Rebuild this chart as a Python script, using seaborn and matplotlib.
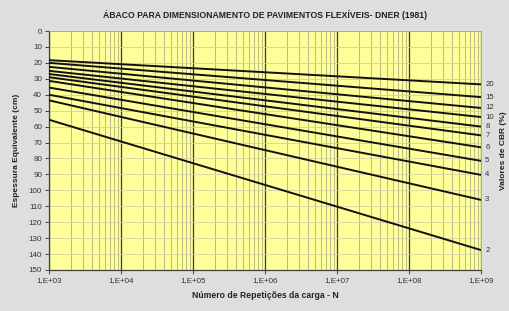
import matplotlib
matplotlib.use("Agg")
import matplotlib.pyplot as plt
from matplotlib.ticker import LogLocator, NullFormatter
import pandas as pd
import seaborn as sns

# CBR curves of the DNER (1981) abacus, thickness (cm) read at N = 1e3 and N = 1e9
cbr_values = [20, 15, 12, 10, 8, 7, 6, 5, 4, 3, 2]
n_repetitions = [1e3, 1e9]
thick_start = [18.3, 20.0, 22.5, 25.0, 27.0, 29.0, 31.3, 35.5, 40.0, 43.5, 55.7]
thick_end = [33.5, 41.5, 48.3, 54.0, 60.0, 65.5, 73.0, 81.5, 90.3, 106.0, 137.5]

x_ticks = [1e3, 1e4, 1e5, 1e6, 1e7, 1e8, 1e9]
x_labels = ["1,E+03", "1,E+04", "1,E+05", "1,E+06", "1,E+07", "1,E+08", "1,E+09"]
y_ticks = list(range(0, 151, 10))

rows = []
for cbr, h0, h1 in zip(cbr_values, thick_start, thick_end):
    rows.append({"CBR": cbr, "N": n_repetitions[0], "H": h0})
    rows.append({"CBR": cbr, "N": n_repetitions[1], "H": h1})
df = pd.DataFrame(rows)

sns.set_theme(style="ticks")
plt.rcParams['font.family'] = ['Liberation Sans', 'DejaVu Sans']

fig = plt.figure(figsize=(5.1, 3.11), dpi=100, facecolor="#dedede")
ax = fig.add_axes([49 / 510, 1 - 270 / 311, 432 / 510, 239 / 311])
ax.set_facecolor("#ffff99")

sns.lineplot(data=df, x="N", y="H", units="CBR", estimator=None, color="#111111",
             linewidth=1.4, ax=ax, zorder=3)

ax.set_xscale("log")
ax.set_xlim(1e3, 1e9)
ax.set_ylim(150, 0)
ax.set_xticks(x_ticks)
ax.set_xticklabels(x_labels)
ax.set_yticks(y_ticks)
ax.xaxis.set_minor_locator(LogLocator(base=10, subs=range(2, 10)))
ax.xaxis.set_minor_formatter(NullFormatter())

# grid like the excel chart
ax.grid(which="minor", axis="x", color="#b0b080", linewidth=0.6)
ax.grid(which="major", axis="x", color="#3c3c28", linewidth=0.9)
ax.grid(which="major", axis="y", color="#d2d2a0", linewidth=0.6)
ax.set_axisbelow(True)

ax.tick_params(which="minor", length=0)
ax.tick_params(which="major", length=3, width=0.7, color="#404040", labelsize=5.8,
               labelcolor="#333333", pad=2)
for s in ["left", "bottom"]:
    ax.spines[s].set_color("#404040")
    ax.spines[s].set_linewidth(0.9)
for s in ["top", "right"]:
    ax.spines[s].set_color("#a0a0a0")
    ax.spines[s].set_linewidth(0.6)

# CBR labels at the end of each curve
for cbr, h in zip(cbr_values, thick_end):
    ax.annotate(str(cbr), xy=(n_repetitions[-1], h), xytext=(3, 0),
                textcoords="offset points", va="center", ha="left",
                fontsize=5.6, color="#333333", annotation_clip=False)

ax.set_title("ÁBACO PARA DIMENSIONAMENTO DE PAVIMENTOS FLEXÍVEIS- DNER (1981)",
             fontsize=6.2, fontweight="bold", color="#222222", pad=9)
ax.set_xlabel("Número de Repetições da carga - N", fontsize=6.2, fontweight="bold",
              color="#222222", labelpad=5)
ax.set_ylabel("Espessura Equivalente (cm)", fontsize=6.0, fontweight="bold",
              color="#222222", labelpad=6)
fig.text(504 / 510, 1 - 151 / 311, "Valores de CBR (%)", rotation=90, ha="center",
         va="center", fontsize=6.0, fontweight="bold", color="#222222")

fig.savefig("out.png", dpi=100, facecolor=fig.get_facecolor())
